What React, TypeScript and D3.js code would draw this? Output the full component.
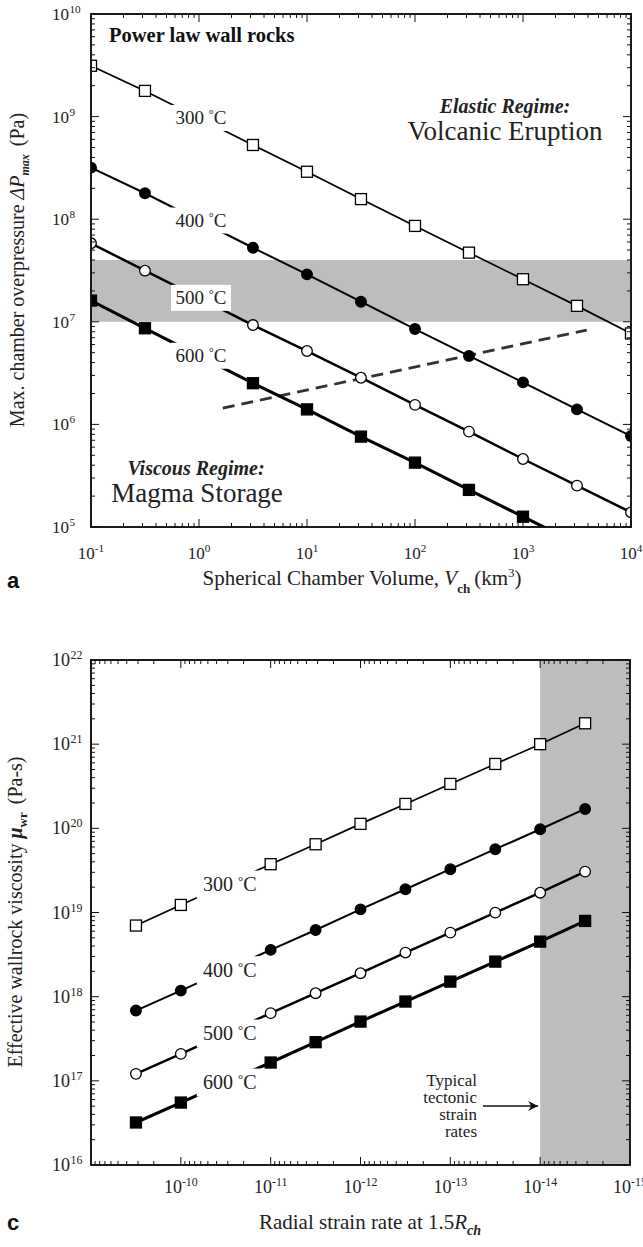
import * as d3 from "d3";

const SERIF = '"Liberation Serif", "Times New Roman", Times, serif';

// ---- panel a : max overpressure vs chamber volume ----
const volumes = [0.1, 0.316, 3.16, 10, 31.6, 100, 316, 1000, 3162, 10000];
const dp300 = [3.13e9, 1.78e9, 5.29e8, 2.9e8, 1.57e8, 8.6e7, 4.72e7, 2.6e7, 1.43e7, 7.7e6];
const dp400 = [3.18e8, 1.79e8, 5.27e7, 2.9e7, 1.57e7, 8.5e6, 4.65e6, 2.57e6, 1.4e6, 7.7e5];
const dp500 = [5.82e7, 3.15e7, 9.3e6, 5.19e6, 2.85e6, 1.55e6, 8.5e5, 4.6e5, 2.53e5, 1.39e5];
const dp600 = [1.61e7, 8.65e6, 2.52e6, 1.4e6, 7.6e5, 4.24e5, 2.3e5, 1.26e5, 6.9e4];
const elasticBand = [1e7, 4e7];
const dashVol = [1.66, 3890];
const dashDp = [1.44e6, 8.3e6];
const volExps = [-1, 0, 1, 2, 3, 4];
const dpExps = [5, 6, 7, 8, 9, 10];

// ---- panel c : wallrock viscosity vs strain rate ----
const strainRates = [3.16e-10, 1e-10, 1e-11, 3.16e-12, 1e-12, 3.16e-13, 1e-13, 3.16e-14, 1e-14, 3.16e-15];
const mu300 = [7.0e18, 1.23e19, 3.75e19, 6.47e19, 1.13e20, 1.95e20, 3.37e20, 5.82e20, 1.0e21, 1.77e21];
const mu400 = [6.84e17, 1.18e18, 3.6e18, 6.2e18, 1.09e19, 1.89e19, 3.27e19, 5.65e19, 9.75e19, 1.7e20];
const mu500 = [1.21e17, 2.09e17, 6.37e17, 1.1e18, 1.9e18, 3.34e18, 5.77e18, 9.97e18, 1.72e19, 3.06e19];
const mu600 = [3.2e16, 5.52e16, 1.65e17, 2.88e17, 5.06e17, 8.75e17, 1.51e18, 2.61e18, 4.51e18, 7.94e18];
const tectonicBand = [1e-14, 1e-15];
const rateExps = [-10, -11, -12, -13, -14, -15];
const muExps = [16, 17, 18, 19, 20, 21, 22];

const temps = ["300", "400", "500", "600"];
const styles = [
  { shape: "square", fill: "#fff", lw: 1.7 },
  { shape: "circle", fill: "#000", lw: 2 },
  { shape: "circle", fill: "#fff", lw: 2.5 },
  { shape: "square", fill: "#000", lw: 3.1 },
];

const isMajor = (v) => Math.abs(Math.log10(v) - Math.round(Math.log10(v))) < 1e-6;

const Frame = ({ x, y, b }) => {
  const xt = x.ticks();
  const yt = y.ticks();
  return (
    <g stroke="#111" fill="none" strokeWidth={1}>
      {xt.map((v, i) => {
        const px = x(v);
        const L = isMajor(v) ? 8 : 4;
        return (
          <g key={"x" + i}>
            <line x1={px} x2={px} y1={b.bottom} y2={b.bottom - L} />
            <line x1={px} x2={px} y1={b.top} y2={b.top + L} />
          </g>
        );
      })}
      {yt.map((v, i) => {
        const py = y(v);
        const L = isMajor(v) ? 8 : 4;
        return (
          <g key={"y" + i}>
            <line x1={b.left} x2={b.left + L} y1={py} y2={py} />
            <line x1={b.right} x2={b.right - L} y1={py} y2={py} />
          </g>
        );
      })}
      <rect x={b.left} y={b.top} width={b.right - b.left} height={b.bottom - b.top} strokeWidth={1.9} />
    </g>
  );
};

const Marker = ({ cx, cy, st }) => {
  if (st.shape === "square") {
    return <rect x={cx - 5.5} y={cy - 5.5} width={11} height={11} fill={st.fill} stroke="#000" strokeWidth={1.3} />;
  }
  return <circle cx={cx} cy={cy} r={5.3} fill={st.fill} stroke="#000" strokeWidth={1.3} />;
};

const TempLabel = ({ cx, cy, t, w, h, size }) => (
  <g transform={`translate(${cx},${cy})`}>
    <rect x={-w / 2} y={-h / 2} width={w} height={h} fill="#fff" />
    <text y={size * 0.33} textAnchor="middle" fontSize={size} fill="#222">
      {t + " "}
      <tspan dy={-6} fontSize={size * 0.65}>°</tspan>
      <tspan dy={6}>C</tspan>
    </text>
  </g>
);

const XPow = ({ x, y, e, size }) => (
  <text x={x} y={y} textAnchor="middle" fontSize={size} fill="#222">
    10<tspan dy={-7} fontSize={size * 0.66}>{e}</tspan>
  </text>
);

const YPow = ({ x, y, e, size }) => (
  <g fill="#222">
    <text x={x} y={y + 6} textAnchor="end" fontSize={size}>10</text>
    <text x={x + 0.5} y={y - 1} fontSize={size * 0.66}>{e}</text>
  </g>
);

const PanelA = () => {
  const b = { left: 91, right: 631, top: 14, bottom: 527 };
  const x = d3.scaleLog().domain([0.1, 1e4]).range([b.left, b.right]);
  const y = d3.scaleLog().domain([1e5, 1e10]).range([b.bottom, b.top]);
  const series = [dp300, dp400, dp500, dp600];
  const line = d3.line().x((d) => x(d[0])).y((d) => y(d[1]));
  return (
    <g>
      <defs>
        <clipPath id="clipA">
          <rect x={b.left} y={b.top} width={b.right - b.left} height={b.bottom - b.top} />
        </clipPath>
      </defs>
      <rect x={b.left} width={b.right - b.left} y={y(elasticBand[1])} height={y(elasticBand[0]) - y(elasticBand[1])} fill="#bdbdbd" />
      <g clipPath="url(#clipA)">
        <path d={line(dashVol.map((v, i) => [v, dashDp[i]]))} fill="none" stroke="#333" strokeWidth={2.8} strokeDasharray="12,7" />
        {series.map((s, k) => (
          <path key={k} d={line(s.map((v, i) => [volumes[i], v]))} fill="none" stroke="#000" strokeWidth={styles[k].lw} />
        ))}
        {series.map((s, k) => {
          const ly = y(Math.sqrt(s[1] * s[2]));
          return <TempLabel key={k} cx={x(1) + 2} cy={ly} t={temps[k]} w={60} h={26} size={19} />;
        })}
        {series.map((s, k) =>
          s.map((v, i) => <Marker key={k + "-" + i} cx={x(volumes[i])} cy={y(v)} st={styles[k]} />)
        )}
      </g>
      <Frame x={x} y={y} b={b} />
      {volExps.map((e) => (
        <XPow key={e} x={x(10 ** e)} y={559} e={e} size={17} />
      ))}
      {dpExps.map((e) => (
        <YPow key={e} x={69} y={y(10 ** e)} e={e} size={17} />
      ))}
      <text x={109} y={42} fontSize={20.5} fontWeight="bold" fill="#111">Power law wall rocks</text>
      <text x={505} y={113} textAnchor="middle" fontSize={20} fontWeight="bold" fontStyle="italic" fill="#222">Elastic Regime:</text>
      <text x={505} y={140} textAnchor="middle" fontSize={27} fill="#222">Volcanic Eruption</text>
      <text x={196} y={475} textAnchor="middle" fontSize={20} fontWeight="bold" fontStyle="italic" fill="#222">Viscous Regime:</text>
      <text x={197} y={502} textAnchor="middle" fontSize={27} fill="#222">Magma Storage</text>
      <text transform="translate(24,270) rotate(-90)" textAnchor="middle" fontSize={20} fill="#222">
        Max. chamber overpressure <tspan fontStyle="italic">ΔP</tspan>
        <tspan fontStyle="italic" fontWeight="bold" fontSize={12} dy={5}>max</tspan>
        <tspan dx={8} dy={-5}>(Pa)</tspan>
      </text>
      <text x={362} y={585} textAnchor="middle" fontSize={21} fill="#222">
        Spherical Chamber Volume, <tspan fontStyle="italic">V</tspan>
        <tspan dy={8} fontSize={13} fontWeight="bold">ch</tspan>
        <tspan dy={-8} dx={4}>(km</tspan>
        <tspan dy={-8} fontSize={13}>3</tspan>
        <tspan dy={8}>)</tspan>
      </text>
      <text x={7} y={588} fontSize={22} fontWeight="bold" fontFamily="Liberation Sans, Arial, sans-serif" fill="#111">a</text>
    </g>
  );
};

const PanelC = () => {
  const b = { left: 91, right: 630, top: 660, bottom: 1165 };
  const x = d3.scaleLog().domain([1e-9, 1e-15]).range([b.left, b.right]);
  const y = d3.scaleLog().domain([1e16, 1e22]).range([b.bottom, b.top]);
  const series = [mu300, mu400, mu500, mu600];
  const line = d3.line().x((d) => x(d[0])).y((d) => y(d[1]));
  const arrowY = 1106;
  return (
    <g>
      <defs>
        <marker id="arrowHead" viewBox="0 0 10 10" refX={10} refY={5} markerWidth={10} markerHeight={10} markerUnits="userSpaceOnUse" orient="auto">
          <path d="M0,0 L10,5 L0,10 L3,5 Z" fill="#111" />
        </marker>
      </defs>
      <rect x={x(tectonicBand[0])} width={x(tectonicBand[1]) - x(tectonicBand[0])} y={b.top} height={b.bottom - b.top} fill="#bdbdbd" />
      {series.map((s, k) => (
        <path key={k} d={line(s.map((v, i) => [strainRates[i], v]))} fill="none" stroke="#000" strokeWidth={styles[k].lw} />
      ))}
      {series.map((s, k) => {
        const ly = y(Math.sqrt(s[1] * s[2]));
        return <TempLabel key={k} cx={x(3.16e-11) + 4} cy={ly} t={temps[k]} w={66} h={28} size={20} />;
      })}
      {series.map((s, k) =>
        s.map((v, i) => <Marker key={k + "-" + i} cx={x(strainRates[i])} cy={y(v)} st={styles[k]} />)
      )}
      <Frame x={x} y={y} b={b} />
      {rateExps.map((e) => (
        <XPow key={e} x={x(10 ** e)} y={1193} e={e} size={18} />
      ))}
      {muExps.map((e) => (
        <YPow key={e} x={70} y={y(10 ** e)} e={e} size={18} />
      ))}
      <g fontSize={17} textAnchor="end" fill="#222">
        <text x={477} y={1086}>Typical</text>
        <text x={477} y={1103}>tectonic</text>
        <text x={477} y={1120}>strain</text>
        <text x={477} y={1137}>rates</text>
      </g>
      <line x1={483} x2={x(tectonicBand[0]) - 2} y1={arrowY} y2={arrowY} stroke="#111" strokeWidth={1.4} markerEnd="url(#arrowHead)" />
      <text transform="translate(22,912) rotate(-90)" textAnchor="middle" fontSize={20} fill="#222">
        Effective wallrock viscosity <tspan fontStyle="italic" fontWeight="bold">μ</tspan>
        <tspan fontWeight="bold" fontSize={13} dy={5}>wr</tspan>
        <tspan dx={8} dy={-5}>(Pa-s)</tspan>
      </text>
      <text x={370} y={1229} textAnchor="middle" fontSize={21} fill="#222">
        Radial strain rate at 1.5<tspan fontStyle="italic">R</tspan>
        <tspan dy={6} fontSize={14} fontStyle="italic" fontWeight="bold">ch</tspan>
      </text>
      <text x={7} y={1230} fontSize={22} fontWeight="bold" fontFamily="Liberation Sans, Arial, sans-serif" fill="#111">c</text>
    </g>
  );
};

export default function App() {
  return (
    <svg width={643} height={1247} fontFamily={SERIF} style={{ position: "absolute", left: 0, top: 0, background: "#fff" }}>
      <PanelA />
      <PanelC />
    </svg>
  );
}
